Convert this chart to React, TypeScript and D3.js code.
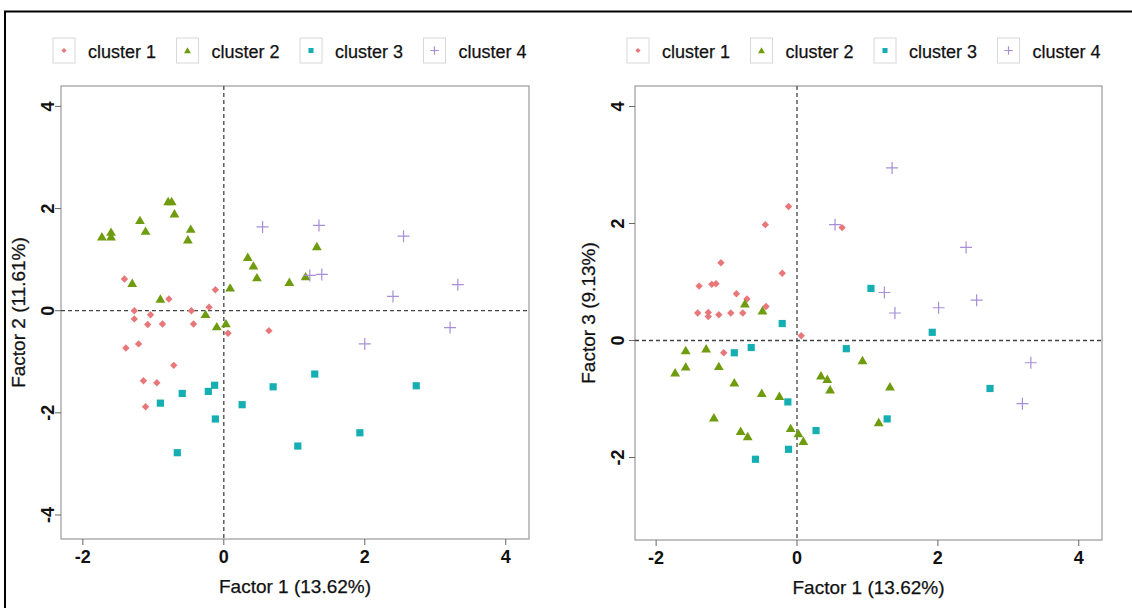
import React from "react";
import * as d3 from "d3";

const clusterNames = ["cluster 1", "cluster 2", "cluster 3", "cluster 4"];
const clusterColors = ["#E8777A", "#6E9C0E", "#15AFB3", "#A88ED8"];

// Panel 1: Factor 1 vs Factor 2
const c1F12: [number, number][] = [[-1.41,0.62],[-0.78,0.23],[-0.12,0.41],[-0.21,0.07],[-1.27,0.0],[-1.04,-0.08],[-0.46,0.0],[-1.27,-0.16],[-1.08,-0.27],[-0.87,-0.26],[-0.43,-0.26],[0.06,-0.44],[0.64,-0.39],[-1.39,-0.73],[-1.21,-0.65],[-0.71,-1.07],[-1.14,-1.37],[-0.95,-1.41],[-1.11,-1.88]];
const c2F12: [number, number][] = [[-1.73,1.45],[-1.60,1.54],[-1.60,1.45],[-1.19,1.77],[-1.11,1.56],[-0.79,2.14],[-0.74,2.14],[-0.70,1.90],[-0.47,1.60],[-0.51,1.39],[-1.30,0.54],[-0.90,0.23],[0.34,1.05],[0.42,0.88],[0.47,0.65],[0.09,0.45],[0.93,0.56],[1.16,0.67],[1.32,1.26],[-0.26,-0.07],[-0.10,-0.31],[0.03,-0.25]];
const c3F12: [number, number][] = [[-0.13,-1.46],[-0.22,-1.58],[-0.59,-1.62],[-0.90,-1.81],[-0.12,-2.12],[-0.66,-2.78],[0.26,-1.84],[0.70,-1.49],[1.29,-1.24],[1.05,-2.65],[1.93,-2.39],[2.73,-1.47]];
const c4F12: [number, number][] = [[0.55,1.64],[1.35,1.67],[1.22,0.69],[1.39,0.71],[2.55,1.46],[3.32,0.51],[2.40,0.28],[3.21,-0.33],[2.00,-0.65]];

// Panel 2: Factor 1 vs Factor 3
const c1F13: [number, number][] = [[-0.12,2.29],[-0.45,1.98],[0.64,1.93],[-1.08,1.33],[-0.21,1.15],[-1.39,0.93],[-1.21,0.96],[-1.15,0.97],[-0.86,0.80],[-0.71,0.71],[-0.44,0.58],[-1.41,0.47],[-1.26,0.48],[-1.26,0.41],[-1.11,0.44],[-0.94,0.47],[-0.77,0.47],[0.06,0.08],[-1.04,-0.21]];
const c2F13: [number, number][] = [[-0.74,0.63],[-0.49,0.51],[-1.58,-0.17],[-1.29,-0.14],[-1.58,-0.45],[-1.73,-0.55],[-1.11,-0.44],[-0.89,-0.72],[-0.50,-0.90],[-0.25,-0.95],[-1.18,-1.32],[-0.80,-1.55],[-0.70,-1.64],[-0.09,-1.50],[0.02,-1.59],[0.09,-1.72],[0.34,-0.60],[0.43,-0.66],[0.47,-0.84],[0.93,-0.34],[1.32,-0.79],[1.16,-1.40]];
const c3F13: [number, number][] = [[-0.21,0.29],[-0.89,-0.21],[-0.65,-0.12],[-0.13,-1.05],[0.27,-1.54],[-0.12,-1.86],[-0.59,-2.03],[0.70,-0.14],[1.05,0.89],[1.92,0.14],[2.74,-0.82],[1.28,-1.34]];
const c4F13: [number, number][] = [[1.35,2.95],[0.54,1.98],[2.40,1.59],[1.24,0.82],[1.39,0.47],[2.01,0.56],[2.55,0.69],[3.32,-0.38],[3.20,-1.08]];

const xTicks = [-2, 0, 2, 4];
const yTicksF2 = [-4, -2, 0, 2, 4];
const yTicksF3 = [-2, 0, 2, 4];

const xTitle = "Factor 1 (13.62%)";
const yTitleF2 = "Factor 2 (11.61%)";
const yTitleF3 = "Factor 3 (9.13%)";

const FONT = "'Liberation Sans', Arial, sans-serif";

function markerPath(k: number, s = 1): string {
  if (k === 0) {
    const r = 3.7 * s;
    return `M0,${-r}L${r},0L0,${r}L${-r},0Z`;
  }
  if (k === 1) {
    const w = 4.9 * s;
    return `M0,${-4.6 * s}L${w},${3.8 * s}L${-w},${3.8 * s}Z`;
  }
  if (k === 2) {
    const h = 3.6 * s;
    return `M${-h},${-h}H${h}V${h}H${-h}Z`;
  }
  const c = 6 * s;
  return `M${-c},0H${c}M0,${-c}V${c}`;
}

function Marker({ k, x, y, s = 1 }: { k: number; x: number; y: number; s?: number }) {
  const col = clusterColors[k];
  if (k === 3) {
    return <path d={markerPath(k, s)} transform={`translate(${x},${y})`} stroke={col} strokeWidth={1.2} fill="none" />;
  }
  return <path d={markerPath(k, s)} transform={`translate(${x},${y})`} fill={col} />;
}

type PanelProps = {
  left: number;
  right: number;
  top: number;
  bottom: number;
  xDomain: [number, number];
  yDomain: [number, number];
  yTicks: number[];
  yTitle: string;
  series: [number, number][][];
  yLabelOffset: number;
};

function Panel(p: PanelProps) {
  const x = d3.scaleLinear().domain(p.xDomain).range([p.left, p.right]);
  const y = d3.scaleLinear().domain(p.yDomain).range([p.bottom, p.top]);
  const cx = (p.left + p.right) / 2;
  const cy = (p.top + p.bottom) / 2;
  const legendStart = p.left - 8;
  return (
    <g>
      {clusterNames.map((n, i) => {
        const lx = legendStart + i * 123.5;
        return (
          <g key={n}>
            <rect x={lx} y={38} width={22} height={25} fill="#fff" stroke="#d8d8d8" strokeWidth={1} />
            <Marker k={i} x={lx + 11} y={50.5} s={0.7} />
            <text x={lx + 35} y={57.5} fontFamily={FONT} fontSize={18} fill="#111" stroke="#111" strokeWidth={0.25}>{n}</text>
          </g>
        );
      })}
      <rect x={p.left} y={p.top} width={p.right - p.left} height={p.bottom - p.top} fill="#fff" stroke="#9a9a9a" strokeWidth={1.2} />
      <line x1={x(0)} x2={x(0)} y1={p.top} y2={p.bottom} stroke="#444" strokeWidth={1.3} strokeDasharray="4,3" />
      <line x1={p.left} x2={p.right} y1={y(0)} y2={y(0)} stroke="#444" strokeWidth={1.3} strokeDasharray="4,3" />
      {xTicks.map((t) => (
        <g key={"x" + t}>
          <line x1={x(t)} x2={x(t)} y1={p.bottom} y2={p.bottom + 6} stroke="#666" strokeWidth={1} />
          <text x={x(t)} y={p.bottom + 24} textAnchor="middle" fontFamily={FONT} fontSize={18} fontWeight="bold" fill="#111">{t}</text>
        </g>
      ))}
      <text x={cx} y={p.bottom + 54} textAnchor="middle" fontFamily={FONT} fontSize={19} fill="#111" stroke="#111" strokeWidth={0.25}>{xTitle}</text>
      {p.yTicks.map((t) => (
        <g key={"y" + t}>
          <line x1={p.left - 6} x2={p.left} y1={y(t)} y2={y(t)} stroke="#666" strokeWidth={1} />
          <text
            transform={`translate(${p.left - p.yLabelOffset},${y(t)}) rotate(-90)`}
            textAnchor="middle"
            dy="0.35em"
            fontFamily={FONT}
            fontSize={18}
            fontWeight="bold"
            fill="#111"
          >
            {t}
          </text>
        </g>
      ))}
      <text
        transform={`translate(${p.left - p.yLabelOffset - 30},${cy}) rotate(-90)`}
        textAnchor="middle"
        dy="0.35em"
        fontFamily={FONT}
        fontSize={19}
        fill="#111"
        stroke="#111"
        strokeWidth={0.25}
      >
        {p.yTitle}
      </text>
      {p.series.map((pts, k) => (
        <g key={"s" + k}>
          {pts.map((d, j) => (
            <Marker key={j} k={k} x={x(d[0])} y={y(d[1])} />
          ))}
        </g>
      ))}
    </g>
  );
}

export default function App() {
  return (
    <svg width={1132} height={608} style={{ position: "absolute", left: 0, top: 0, background: "#fff" }}>
      <rect x={0} y={0} width={1132} height={608} fill="#fff" />
      <path d="M5,700V11.5H1140" fill="none" stroke="#000" strokeWidth={2} />
      <Panel
        left={61}
        right={529}
        top={86}
        bottom={539}
        xDomain={[-2.31, 4.33]}
        yDomain={[-4.47, 4.4]}
        yTicks={yTicksF2}
        yTitle={yTitleF2}
        series={[c1F12, c2F12, c3F12, c4F12]}
        yLabelOffset={13}
      />
      <Panel
        left={635}
        right={1102}
        top={86}
        bottom={540}
        xDomain={[-2.3, 4.33]}
        yDomain={[-3.41, 4.35]}
        yTicks={yTicksF3}
        yTitle={yTitleF3}
        series={[c1F13, c2F13, c3F13, c4F13]}
        yLabelOffset={17}
      />
    </svg>
  );
}
